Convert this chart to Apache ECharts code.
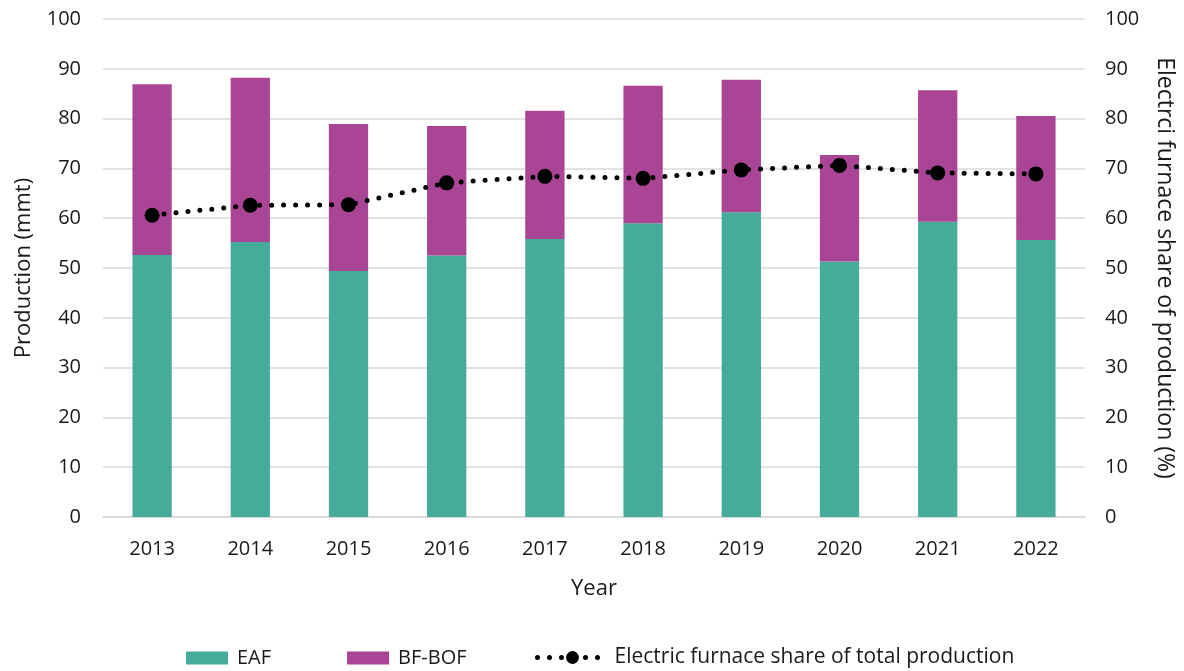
<!DOCTYPE html>
<html>
<head>
<meta charset="utf-8">
<script src="https://cdn.jsdelivr.net/npm/echarts@6/dist/echarts.min.js"></script>
<style>
  html, body { margin: 0; padding: 0; background: #fff; }
  #chart { width: 1184px; height: 671px; }
</style>
</head>
<body>
<div id="chart"></div>
<script>
  // 年份
  const years = ['2013', '2014', '2015', '2016', '2017', '2018', '2019', '2020', '2021', '2022'];
  // 电炉产量 (mmt)
  const eafData = [52.6, 55.2, 49.4, 52.5, 55.8, 59.0, 61.2, 51.3, 59.3, 55.6];
  // 高炉-转炉产量 (mmt)
  const bfbofData = [34.3, 33.0, 29.5, 26.0, 25.8, 27.6, 26.6, 21.4, 26.4, 24.9];
  // 电炉占比 (%)
  const shareData = [60.6, 62.6, 62.7, 67.1, 68.4, 68.0, 69.7, 70.6, 69.1, 68.9];

  const font = '"Open Sans", Lato, sans-serif';
  const textColor = '#1a1a1a';

  let chart = echarts.init(document.getElementById('chart'));

  let option = {
    animation: false,
    textStyle: { fontFamily: font, color: textColor },
    legend: [
      {
        data: ['EAF', 'BF-BOF'],
        left: 181,
        top: 643,
        itemWidth: 42,
        itemHeight: 13,
        itemGap: 76,
        icon: 'rect',
        selectedMode: false,
        textStyle: { fontFamily: font, fontSize: 20, color: textColor, padding: [0, 0, 0, 4] }
      },
      {
        data: ['Electric furnace share of total production'],
        left: 530,
        top: 642,
        itemWidth: 70,
        itemHeight: 16,
        selectedMode: false,
        lineStyle: { color: '#000', width: 5, type: [0, 12], cap: 'round' },
        textStyle: { fontFamily: font, fontSize: 21, color: textColor, padding: [0, 0, 0, 2] }
      }
    ],
    grid: {
      left: 103,
      right: 99,
      top: 19,
      bottom: 154
    },
    xAxis: {
      type: 'category',
      data: years,
      name: 'Year',
      nameLocation: 'middle',
      nameGap: 61,
      nameTextStyle: { fontSize: 22, color: textColor, fontFamily: font },
      axisTick: { show: false },
      axisLine: { lineStyle: { color: '#d9d9d9', width: 1.5 } },
      axisLabel: { margin: 22, fontSize: 20, color: textColor, fontFamily: font }
    },
    yAxis: [
      {
        type: 'value',
        min: 0,
        max: 100,
        interval: 10,
        name: 'Production (mmt)',
        nameLocation: 'middle',
        nameGap: 68,
        nameRotate: 90,
        nameTextStyle: { fontSize: 22, color: textColor, fontFamily: font },
        axisLabel: { margin: 22, fontSize: 20, color: textColor, fontFamily: font },
        splitLine: { lineStyle: { color: '#d9d9d9', width: 1.5 } }
      },
      {
        type: 'value',
        min: 0,
        max: 100,
        interval: 10,
        position: 'right',
        name: 'Electrci furnace share of production (%)',
        nameLocation: 'middle',
        nameGap: 68,
        nameRotate: -90,
        nameTextStyle: { fontSize: 23, color: textColor, fontFamily: font },
        axisLabel: { margin: 20, fontSize: 20, color: textColor, fontFamily: font },
        splitLine: { show: false }
      }
    ],
    series: [
      {
        name: 'EAF',
        type: 'bar',
        stack: 'prod',
        data: eafData,
        barWidth: '40%',
        itemStyle: { color: '#46ab9a' }
      },
      {
        name: 'BF-BOF',
        type: 'bar',
        stack: 'prod',
        data: bfbofData,
        barWidth: '40%',
        itemStyle: { color: '#aa4596' }
      },
      {
        name: 'Electric furnace share of total production',
        type: 'line',
        yAxisIndex: 1,
        data: shareData,
        symbol: 'circle',
        symbolSize: 15,
        itemStyle: { color: '#000' },
        lineStyle: { color: '#000', width: 5, type: [0, 12], cap: 'round' },
        z: 5
      }
    ]
  };

  chart.setOption(option, true);
</script>
</body>
</html>
